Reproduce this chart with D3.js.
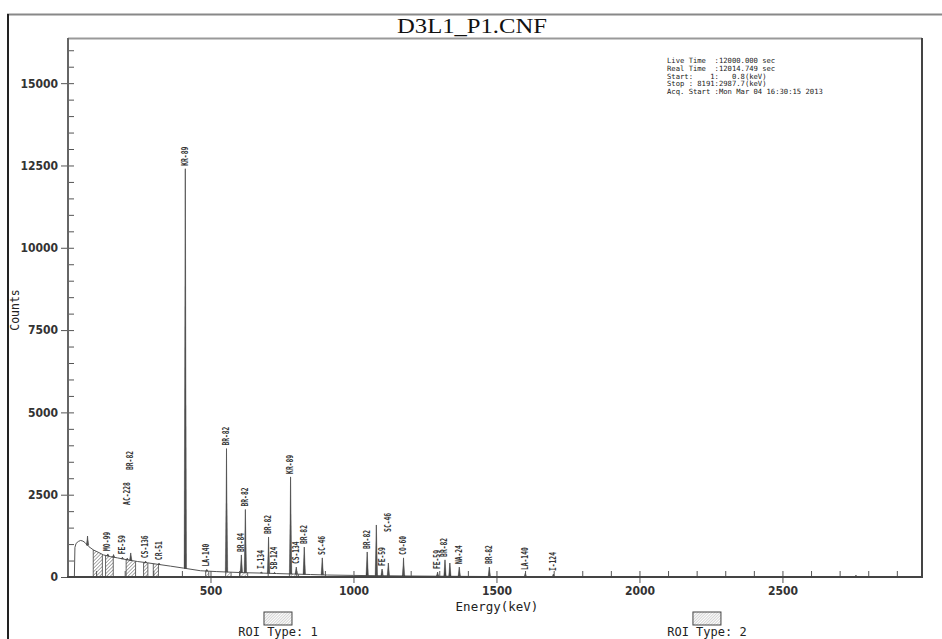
<!DOCTYPE html>
<html><head><meta charset="utf-8">
<script src="https://cdn.jsdelivr.net/npm/d3@7"></script>
<style>body{margin:0;background:#fff}svg{display:block}</style>
</head><body>
<svg id="c" width="942" height="639"></svg>
<script>
// ---------------- data ----------------
const title = "D3L1_P1.CNF";
const infoLines = [
  "Live Time  :12000.000 sec",
  "Real Time  :12014.749 sec",
  "Start:    1:   0.8(keV)",
  "Stop : 8191:2987.7(keV)",
  "Acq. Start :Mon Mar 04 16:30:15 2013"
];
const xTickMajor = [500, 1000, 1500, 2000, 2500];
const xTickMinor = [100,200,300,400,600,700,800,900,1100,1200,1300,1400,1600,1700,1800,1900,2100,2200,2300,2400,2600,2700,2800,2900];
const yTickMajor = [0, 2500, 5000, 7500, 10000, 12500, 15000];
const yTickMinor = [500,1000,1500,2000,3000,3500,4000,4500,5500,6000,6500,7000,8000,8500,9000,9500,10500,11000,11500,12000,13000,13500,14000,14500,15500,16000];
// continuum (energy keV, counts)
const continuum = [
  [0,0],[24,0],[26,900],[30,1020],[38,1080],[46,1110],[54,1090],[62,1040],[75,920],[91,820],[110,740],
  [126,670],[150,620],[175,580],[210,520],[245,470],[280,430],[320,380],[360,330],[406,270],
  [465,190],[520,165],[560,150],[620,130],[675,120],[730,105],[790,90],[850,75],[909,60],
  [1000,48],[1100,38],[1200,30],[1300,24],[1400,18],[1500,14],[1600,11],[1800,8],[2000,6],
  [2300,4],[2600,3],[2988,2]
];
// peaks
const peakEnergy = [70,141,161,192,209,221,273,320,412,487,556,608,622,678,703,724,780,800,828,891,1048,1080,1100,1122,1175,1294,1320,1337,1370,1475,1601,1699,2757];
const peakCounts = [1245,700,680,600,570,730,480,420,12400,230,3900,670,2050,150,1215,140,3040,300,910,580,760,1580,240,425,580,150,520,425,300,300,120,90,55];
const peakLabels = [null,"MO-99",null,"FE-59","AC-228","BR-82","CS-136","CR-51","KR-89","LA-140","BR-82","BR-84","BR-82","I-134","BR-82","SB-124","KR-89","CS-134","BR-82","SC-46","BR-82",null,"FE-59","SC-46","CO-60","FE-59","BR-82",null,"NA-24","BR-82","LA-140","I-124",null];
// label level (counts) where a label is lifted above its neighbours
const labelLevel = {4: 2190, 5: 3250, 23: 1370};
// ROI regions [start keV, end keV, type]
const roiRegions = [[90,122,1],[133,160,1],[205,238,1],[266,281,1],[300,318,1],[483,494,2],[553,572,2],[603,630,2],[776,808,2]];
const roiLegend = ["ROI Type: 1", "ROI Type: 2"];
const roiLegendEnergy = [750, 2250];

// ---------------- drawing ----------------
const svg = d3.select("#c");
const x = d3.scaleLinear().domain([0, 2988]).range([67.5, 922]);
const y = d3.scaleLinear().domain([0, 16384]).range([577, 37.6]);

const defs = svg.append("defs");
function hatch(id, color, gap) {
  const p = defs.append("pattern").attr("id", id).attr("patternUnits", "userSpaceOnUse")
    .attr("width", gap).attr("height", gap).attr("patternTransform", "rotate(45)");
  p.append("rect").attr("width", gap).attr("height", gap).attr("fill", "#fff");
  p.append("line").attr("x1", 0).attr("y1", 0).attr("x2", 0).attr("y2", gap)
    .attr("stroke", color).attr("stroke-width", 1);
}
hatch("h1", "#555", 2.5);
hatch("h2", "#888", 2.5);
hatch("hl", "#aaa", 2);

// outer frame
svg.append("line").attr("x1", 7).attr("x2", 942).attr("y1", 14.5).attr("y2", 14.5).attr("stroke", "#888").attr("stroke-width", 2);
svg.append("line").attr("x1", 8).attr("x2", 8).attr("y1", 14).attr("y2", 639).attr("stroke", "#222").attr("stroke-width", 2);

// title
svg.append("text").attr("x", 472).attr("y", 33).attr("text-anchor", "middle")
  .attr("font-family", "Liberation Serif, Times New Roman, serif").attr("font-size", 21).attr("fill", "#111")
  .attr("textLength", 150).attr("lengthAdjust", "spacingAndGlyphs")
  .text(title);

// plot box
svg.append("line").attr("x1", 68).attr("x2", 922).attr("y1", 38.5).attr("y2", 38.5).attr("stroke", "#999").attr("stroke-width", 2);
svg.append("line").attr("x1", 922).attr("x2", 922).attr("y1", 38).attr("y2", 577).attr("stroke", "#444").attr("stroke-width", 2);

// continuum interpolation helper (for placing marks on the drawn curve)
const bis = d3.bisector(d => d[0]).left;
function contAt(e) {
  const i = Math.max(1, Math.min(continuum.length - 1, bis(continuum, e)));
  const a = continuum[i - 1], b = continuum[i];
  const t = (e - a[0]) / (b[0] - a[0]);
  return a[1] + (b[1] - a[1]) * Math.max(0, Math.min(1, t));
}

// ROI hatched areas
const area = d3.area().x(d => x(d[0])).y0(y(0)).y1(d => y(d[1]));
roiRegions.forEach((r, i) => {
  const cp = defs.append("clipPath").attr("id", "roi" + i);
  cp.append("rect").attr("x", x(r[0])).attr("width", x(r[1]) - x(r[0])).attr("y", 0).attr("height", 639);
  svg.append("path").datum(continuum).attr("d", area).attr("clip-path", `url(#roi${i})`)
    .attr("fill", r[2] === 1 ? "url(#h1)" : "url(#h2)");
  [r[0], r[1]].forEach(e => {
    svg.append("line").attr("x1", x(e)).attr("x2", x(e)).attr("y1", y(0)).attr("y2", y(contAt(e)))
      .attr("stroke", "#444").attr("stroke-width", 0.8);
  });
});

// continuum line
svg.append("path").datum(continuum).attr("fill", "none").attr("stroke", "#555").attr("stroke-width", 1)
  .attr("d", d3.line().x(d => x(d[0])).y(d => y(d[1])));

// peaks
peakEnergy.forEach((e, i) => {
  const px = x(e), base = y(contAt(e)), top = y(peakCounts[i]);
  svg.append("path").attr("d", `M${px - 1.2},${base}L${px},${top}L${px + 1.2},${base}Z`)
    .attr("fill", "#333").attr("stroke", "#444").attr("stroke-width", 0.4);
  svg.append("line").attr("x1", px).attr("x2", px).attr("y1", base).attr("y2", top)
    .attr("stroke", "#555").attr("stroke-width", 0.9);
});

// peak labels
peakEnergy.forEach((e, i) => {
  const lab = peakLabels[i];
  if (!lab) return;
  const px = x(e);
  const by = labelLevel[i] !== undefined ? y(labelLevel[i]) : y(peakCounts[i]) - 3;
  svg.append("text").attr("transform", `translate(${px + 2.5},${by}) rotate(-90)`)
    .attr("font-family", "DejaVu Sans Mono, monospace").attr("font-size", 8).attr("font-weight", "bold")
    .attr("fill", "#333").attr("textLength", lab.length * 3.8).attr("lengthAdjust", "spacingAndGlyphs")
    .text(lab);
});

// axes
const fmt = d3.format("d");
const gy = svg.append("g").attr("transform", "translate(68,0)");
gy.call(d3.axisLeft(y).tickValues(yTickMajor).tickSize(7).tickPadding(3).tickFormat(fmt));
const gy2 = svg.append("g").attr("transform", "translate(68,0)");
gy2.call(d3.axisRight(y).tickValues(yTickMajor.concat(yTickMinor)).tickSize(6).tickFormat(""));
const gx = svg.append("g").attr("transform", "translate(0,577)");
gx.call(d3.axisBottom(x).tickValues(xTickMajor).tickSize(6).tickPadding(3).tickFormat(fmt));
const gx2 = svg.append("g").attr("transform", "translate(0,577)");
gx2.call(d3.axisTop(x).tickValues(xTickMajor.concat(xTickMinor)).tickSize(6).tickFormat(""));
[gy, gy2, gx, gx2].forEach(g => {
  g.select(".domain").remove();
  g.selectAll(".tick line").attr("stroke", "#555").attr("stroke-width", 1);
  g.selectAll(".tick text").attr("font-family", "DejaVu Sans Condensed, DejaVu Sans, sans-serif")
    .attr("font-weight", "bold").attr("font-size", 12).attr("fill", "#333");
});
svg.append("line").attr("x1", 68).attr("x2", 68).attr("y1", 38).attr("y2", 578).attr("stroke", "#666").attr("stroke-width", 2);
svg.append("line").attr("x1", 67).attr("x2", 923).attr("y1", 577).attr("y2", 577).attr("stroke", "#444").attr("stroke-width", 2);

// axis titles
svg.append("text").attr("transform", "translate(19,310) rotate(-90)").attr("text-anchor", "middle")
  .attr("font-family", "DejaVu Sans Mono, monospace").attr("font-size", 11.5).attr("fill", "#222")
  .text("Counts");
svg.append("text").attr("x", 497).attr("y", 611).attr("text-anchor", "middle")
  .attr("font-family", "DejaVu Sans Mono, monospace").attr("font-size", 12.5).attr("fill", "#222")
  .text("Energy(keV)");

// info block
const info = svg.append("g").attr("font-family", "DejaVu Sans Mono, monospace").attr("font-size", 7.2).attr("fill", "#222");
infoLines.forEach((t, i) => {
  info.append("text").attr("x", 667).attr("y", 63 + i * 7.75).attr("xml:space", "preserve").text(t);
});

// ROI legend
roiLegend.forEach((t, i) => {
  const cx = x(roiLegendEnergy[i]) - 4;
  svg.append("rect").attr("x", cx - 14).attr("y", 612).attr("width", 28).attr("height", 13)
    .attr("fill", "url(#hl)").attr("stroke", "#444").attr("stroke-width", 1);
  svg.append("text").attr("x", cx).attr("y", 636).attr("text-anchor", "middle")
    .attr("font-family", "DejaVu Sans Mono, monospace").attr("font-size", 12).attr("fill", "#222").text(t);
});
</script>
</body></html>
